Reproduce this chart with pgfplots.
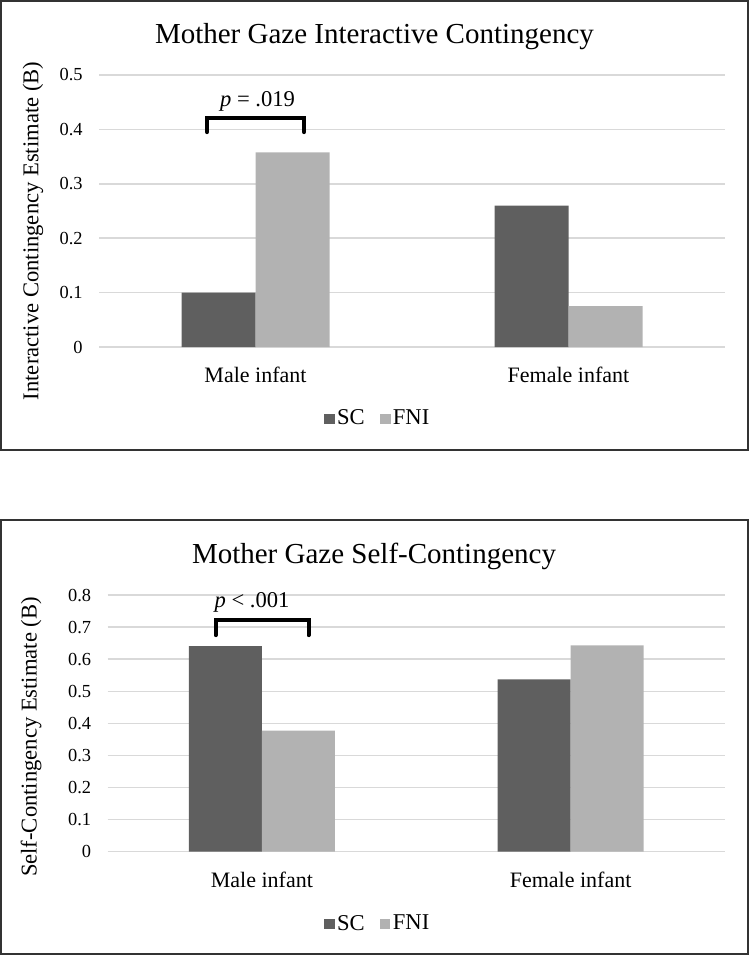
\documentclass[border=0pt]{standalone}
\usepackage{fontspec}
\setmainfont{Liberation Serif}
\usepackage{pgfplots}
\pgfplotsset{compat=1.18}
\definecolor{scc}{HTML}{5F5F5F}
\definecolor{fnic}{HTML}{B2B2B2}
\definecolor{gridc}{HTML}{D9D9D9}
\pgfplotsset{
  sqlegend/.style={legend image code/.code={\fill[##1] (0pt,-2.6pt) rectangle (5.2pt,2.6pt);}},
  mystyle/.style={
    scale only axis, ybar=0pt, xmin=-0.5, xmax=1.5,
    xtick={0,1}, xticklabels={Male infant, Female infant},
    axis line style={draw=none}, major tick length=0pt,
    ymajorgrids, grid style={gridc, line width=0.75pt},
    tick label style={inner sep=0pt},
    yticklabel style={font=\fontsize{9.2}{10}\selectfont, xshift=-8pt},
    xticklabel style={font=\fontsize{11}{13}\selectfont, yshift=-9.8pt},
    ylabel style={font=\fontsize{11.3}{13}\selectfont, anchor=center},
    every axis title shift=0pt,
    title style={font=\fontsize{14.5}{17}\selectfont, anchor=base, yshift=0pt},
    legend columns=2,
    legend style={draw=none, fill=none, font=\fontsize{11.3}{13}\selectfont, anchor=center,
      nodes={inner sep=1.2pt},
      /tikz/every even column/.append style={column sep=6.5pt}},
    every axis plot post/.append style={sqlegend},
    /pgf/number format/assume math mode=true,
    clip=false,
  }
}
\begin{document}
\begin{tikzpicture}
\useasboundingbox (0,0) rectangle (374.5pt,-478pt);
\draw[line width=1pt, black!80] (0.5pt,-0.5pt) rectangle (374pt,-225pt);
\draw[line width=1pt, black!80] (0.5pt,-260pt) rectangle (374pt,-477pt);

% Top panel
\begin{axis}[mystyle,
  at={(49.5pt,-173.5pt)}, anchor=south west,
  width=313pt, height=136pt, bar width=37pt,
  ymin=0, ymax=0.5,
  ytick={0,0.1,0.2,0.3,0.4,0.5},
  yticklabels={0,0.1,0.2,0.3,0.4,0.5},
  ylabel={Interactive Contingency Estimate (B)},
  ylabel style={at={(axis description cs:-0.1054,0.4265)}},
  title={Mother Gaze Interactive Contingency},
  title style={at={(axis description cs:0.44,1.1158)}},
  legend style={at={(axis description cs:0.4457,-0.2647)}},
]
\addplot[fill=scc, draw=none] coordinates {(0,0.100) (1,0.260)};
\addplot[fill=fnic, draw=none] coordinates {(0,0.358) (1,0.075)};
\legend{SC,FNI}
\draw[line width=2pt, line cap=round] (axis cs:-0.155,0.395) -- (axis cs:-0.155,0.421) -- (axis cs:0.155,0.421) -- (axis cs:0.155,0.395);
\node[anchor=base, font=\fontsize{11.3}{13}\selectfont] at (axis cs:0.0064,0.443) {\textit{p} = .019};
\end{axis}

% Bottom panel
\begin{axis}[mystyle,
  at={(53.75pt,-425.85pt)}, anchor=south west,
  width=308.75pt, height=128.35pt, bar width=36.5pt,
  ymin=0, ymax=0.8,
  ytick={0,0.1,0.2,0.3,0.4,0.5,0.6,0.7,0.8},
  yticklabels={0,0.1,0.2,0.3,0.4,0.5,0.6,0.7,0.8},
  ylabel={Self-Contingency Estimate (B)},
  ylabel style={at={(axis description cs:-0.1239,0.4468)}},
  title={Mother Gaze Self-Contingency},
  title style={at={(axis description cs:0.4316,1.1247)}},
  legend style={at={(axis description cs:0.438,-0.2817)}},
]
\addplot[fill=scc, draw=none] coordinates {(0,0.641) (1,0.537)};
\addplot[fill=fnic, draw=none] coordinates {(0,0.377) (1,0.643)};
\legend{SC,FNI}
\draw[line width=2pt, line cap=round] (axis cs:-0.150,0.675) -- (axis cs:-0.150,0.722) -- (axis cs:0.151,0.722) -- (axis cs:0.151,0.675);
\node[anchor=base, font=\fontsize{11.3}{13}\selectfont] at (axis cs:-0.032,0.7626) {\textit{p} < .001};
\end{axis}
\end{tikzpicture}
\end{document}
